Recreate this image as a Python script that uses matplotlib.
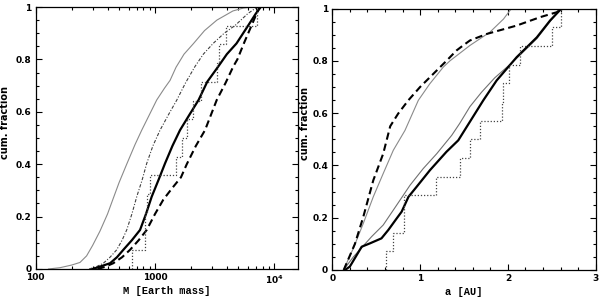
import numpy as np
import matplotlib
matplotlib.use('Agg')
import matplotlib.pyplot as plt
from matplotlib.ticker import MultipleLocator, FixedLocator, NullFormatter

# ---- left panel: mass distributions (M in Earth masses, cumulative fraction)
mass_gray = [128, 160, 200, 235, 267, 300, 346, 400, 447, 500, 579, 680, 774, 900,
             1033, 1200, 1337, 1500, 1750, 2096, 2600, 3300, 4500, 5500, 6500]
frac_gray = [0.0, 0.005, 0.015, 0.025, 0.05, 0.09, 0.145, 0.21, 0.27, 0.33, 0.40, 0.475, 0.53, 0.59,
             0.645, 0.69, 0.72, 0.77, 0.82, 0.86, 0.91, 0.95, 0.985, 0.996, 1.0]

mass_dashdot = [280, 320, 369, 420, 477, 530, 579, 640, 703, 780, 852, 960, 1102, 1300,
                1523, 1800, 2163, 2541, 3070, 3800, 4700, 6000, 7200]
frac_dashdot = [0.0, 0.008, 0.022, 0.045, 0.073, 0.11, 0.149, 0.21, 0.276, 0.34, 0.403, 0.47, 0.53, 0.59,
                0.645, 0.71, 0.773, 0.82, 0.861, 0.9, 0.93, 0.975, 1.0]

mass_black = [300, 340, 420, 480, 542, 640, 749, 840, 938, 1070, 1213, 1400, 1620, 1950,
              2317, 2743, 3390, 4000, 4820, 6050, 7000, 7700]
frac_black = [0.0, 0.008, 0.022, 0.045, 0.073, 0.11, 0.149, 0.21, 0.276, 0.34, 0.403, 0.47, 0.53, 0.59,
              0.645, 0.715, 0.773, 0.82, 0.861, 0.93, 0.975, 1.0]

mass_dashed = [330, 380, 447, 530, 617, 730, 852, 1000, 1175, 1400, 1650, 1845, 2200, 2625,
               3290, 3900, 4530, 4900, 5600, 6450, 7500]
frac_dashed = [0.0, 0.008, 0.022, 0.045, 0.073, 0.11, 0.149, 0.21, 0.265, 0.31, 0.35, 0.40, 0.47, 0.53,
               0.645, 0.71, 0.773, 0.80, 0.865, 0.93, 1.0]

mass_obs = [638, 825, 825, 850, 905, 1500, 1675, 1845, 2071, 2432, 3289, 3460, 3940, 7160]

# ---- right panel: semi-major axis distributions (a in AU)
a_gray = [0.128, 0.24, 0.353, 0.467, 0.58, 0.695, 0.828, 0.98, 1.11, 1.264, 1.34, 1.568,
          1.796, 1.95, 2.04]
fa_gray = [0.0, 0.083, 0.178, 0.28, 0.369, 0.458, 0.534, 0.649, 0.712, 0.776, 0.80, 0.859,
           0.91, 0.96, 1.0]

a_dashed = [0.13, 0.258, 0.353, 0.467, 0.58, 0.66, 0.75, 0.866, 1.0, 1.15, 1.30, 1.416,
            1.49, 1.568, 1.76, 2.10, 2.366, 2.556, 2.61]
fa_dashed = [0.0, 0.10, 0.203, 0.343, 0.445, 0.55, 0.598, 0.649, 0.70, 0.75, 0.80, 0.84,
             0.859, 0.878, 0.903, 0.935, 0.967, 0.986, 1.0]

a_thin = [0.128, 0.24, 0.449, 0.58, 0.733, 0.885, 1.036, 1.19, 1.36, 1.45, 1.568, 1.7,
          1.85, 2.02, 2.1, 2.33, 2.48, 2.6]
fa_thin = [0.0, 0.05, 0.128, 0.172, 0.248, 0.324, 0.388, 0.445, 0.515, 0.56, 0.625, 0.68,
           0.735, 0.785, 0.81, 0.885, 0.95, 1.0]

a_black = [0.145, 0.20, 0.335, 0.43, 0.56, 0.638, 0.733, 0.79, 0.868, 0.96, 1.113, 1.30,
           1.435, 1.72, 1.872, 2.10, 2.33, 2.48, 2.61]
fa_black = [0.0, 0.013, 0.089, 0.102, 0.121, 0.153, 0.197, 0.223, 0.28, 0.318, 0.382, 0.452,
            0.496, 0.649, 0.725, 0.814, 0.89, 0.954, 1.0]

a_obs = [0.61, 0.688, 0.817, 0.82, 1.18, 1.455, 1.568, 1.68, 1.93, 1.94, 2.016, 2.14, 2.50, 2.60]


def obs_step(ax, vals):
    # cumulative distribution of the observed sample as a dotted staircase
    n = len(vals)
    xs = [vals[0]] + list(vals)
    ys = [0.0] + list(np.arange(1, n + 1) / n)
    ax.step(xs, ys, where='post', color='#444444', lw=0.9, ls=(0, (1, 1.5)))


def style_axes(ax, ylab_x):
    ax.tick_params(which='both', direction='in', top=True, right=True, width=0.8)
    ax.tick_params(which='major', length=4.5, labelsize=6.5, pad=3)
    ax.tick_params(which='minor', length=2.5)
    for s in ax.spines.values():
        s.set_linewidth(0.9)
    ax.set_ylim(0, 1)
    ax.yaxis.set_minor_locator(MultipleLocator(0.05))
    ax.set_yticks([0, 0.2, 0.4, 0.6, 0.8, 1])
    ax.set_yticklabels(['0', '0.2', '0.4', '0.6', '0.8', '1'], fontweight='bold')
    ax.set_ylabel('cum. fraction', fontsize=7, fontweight='bold')
    ax.yaxis.set_label_coords(ylab_x, 0.56)


fig = plt.figure(figsize=(6.0, 3.02), dpi=100)

# left: mass
ax1 = fig.add_axes([0.0595, 0.1093, 0.4367, 0.8675])
ax1.plot(mass_gray, frac_gray, color='#8a8a8a', lw=0.8)
ax1.plot(mass_dashdot, frac_dashdot, color='#404040', lw=0.8, ls=(0, (3, 1.5, 1, 1.5)))
ax1.plot(mass_black, frac_black, color='black', lw=1.6)
ax1.plot(mass_dashed, frac_dashed, color='black', lw=1.5, ls=(0, (3.5, 2)))
obs_step(ax1, mass_obs)
ax1.set_xscale('log')
ax1.set_xlim(100, 10 ** 4.196)
ax1.xaxis.set_minor_locator(FixedLocator([k * 10 ** e for e in (2, 3, 4) for k in range(2, 10)]))
ax1.xaxis.set_minor_formatter(NullFormatter())
ax1.set_xticks([100, 1000, 10000])
ax1.set_xticklabels(['100', '1000', r'$\mathbf{10^4}$'], fontweight='bold')
style_axes(ax1, -0.098)
ax1.set_xlabel('M [Earth mass]', fontsize=7.5, fontweight='bold', family='Liberation Mono', labelpad=0)

# right: semi-major axis
ax2 = fig.add_axes([0.5538, 0.106, 0.439, 0.8656])
ax2.plot(a_gray, fa_gray, color='#8a8a8a', lw=0.8)
ax2.plot(a_thin, fa_thin, color='#707070', lw=0.8)
ax2.plot(a_black, fa_black, color='black', lw=1.6)
ax2.plot(a_dashed, fa_dashed, color='black', lw=1.5, ls=(0, (3.5, 2)))
obs_step(ax2, a_obs)
ax2.set_xlim(0, 3)
ax2.xaxis.set_minor_locator(MultipleLocator(0.2))
ax2.set_xticks([0, 1, 2, 3])
ax2.set_xticklabels(['0', '1', '2', '3'], fontweight='bold')
style_axes(ax2, -0.085)
ax2.set_xlabel('a [AU]', fontsize=7.5, fontweight='bold', family='Liberation Mono', labelpad=3)

fig.savefig('out.png', dpi=100)
plt.close(fig)
